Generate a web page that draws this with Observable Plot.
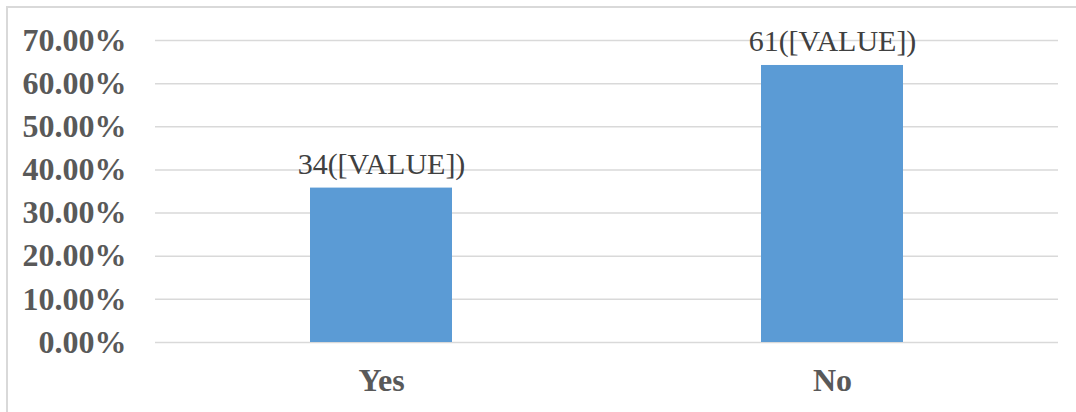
<!DOCTYPE html>
<html>
<head>
<meta charset="utf-8">
<script src="https://cdn.jsdelivr.net/npm/d3@7"></script>
<script src="https://cdn.jsdelivr.net/npm/@observablehq/plot@0.6"></script>
<style>
  html, body { margin: 0; padding: 0; background: #fff; }
  #wrap { position: relative; width: 1076px; height: 412px; overflow: hidden; }
  #frame { position: absolute; left: 6px; top: 6px; width: 1200px; height: 600px;
           border-top: 2px solid #d9d9d9; border-left: 2px solid #d9d9d9; pointer-events: none; }
  #wrap svg text { font-family: "Times New Roman", Times, "Liberation Serif", serif !important; }
</style>
</head>
<body>
<div id="wrap"><div id="frame"></div></div>
<script>
const categories = ["Yes", "No"];
const counts = [34, 61];
const shares = [0.3579, 0.6421];
const yTicks = [0, 0.1, 0.2, 0.3, 0.4, 0.5, 0.6, 0.7];

const data = categories.map((c, i) => ({category: c, count: counts[i], share: shares[i]}));
const serif = "Times New Roman, Liberation Serif, serif";
const p = 0.6855;
const chart = Plot.plot({
  width: 1076,
  height: 412,
  marginLeft: 155,
  marginRight: 18,
  marginTop: 40,
  marginBottom: 70,
  style: {background: "transparent", fontFamily: serif},
  x: {domain: categories, paddingInner: p, paddingOuter: p / 2, label: null},
  y: {domain: [0, 0.7], ticks: yTicks, label: null, tickFormat: d => (d * 100).toFixed(2) + "%"},
  marks: [
    Plot.gridY(yTicks, {stroke: "#d9d9d9", strokeOpacity: 1, strokeWidth: 1.5}),
    Plot.barY(data, {x: "category", y: "share", fill: "#5b9bd5"}),
    Plot.text(data, {x: "category", y: "share", text: d => d.count + "([VALUE])",
      lineAnchor: "bottom", dy: -14, fontSize: 30, fontFamily: serif, fill: "#404040"}),
    Plot.axisY({ticks: yTicks, tickSize: 0, tickPadding: 29, fontSize: 32, fontWeight: "bold",
      fontFamily: serif, fill: "#595959", tickFormat: d => (d * 100).toFixed(2) + "%"}),
    Plot.axisX({tickSize: 0, tickPadding: 26, fontSize: 32, fontWeight: "bold", fontFamily: serif, fill: "#595959"})
  ]
});
chart.style.position = "absolute";
chart.style.left = "0";
chart.style.top = "0";
document.getElementById("wrap").appendChild(chart);
</script>
</body>
</html>
